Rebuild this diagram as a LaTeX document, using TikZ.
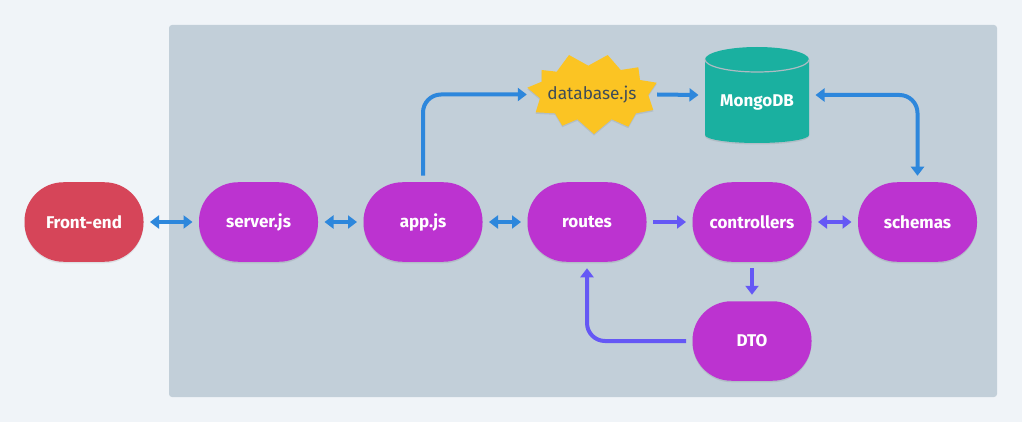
\documentclass[tikz,border=0pt]{standalone}
\usepackage{fontspec}
\setmainfont{Fira Sans}
\usepackage{xcolor}
\usepackage{tikz}
\usetikzlibrary{arrows.meta,shadows}

\definecolor{pagebg}{HTML}{F0F4F8}
\definecolor{panelbg}{HTML}{C2CFD9}
\definecolor{pillred}{HTML}{D64559}
\definecolor{pillpurple}{HTML}{BC33D0}
\definecolor{dbteal}{HTML}{1AB0A0}
\definecolor{rimgrey}{HTML}{AEBBC3}
\definecolor{burstyellow}{HTML}{FBC423}
\definecolor{inkdark}{HTML}{3E4C59}
\definecolor{linkblue}{HTML}{2D87DC}
\definecolor{linkindigo}{HTML}{6558F5}

\tikzset{
  softshadow/.style={drop shadow={shadow xshift=0pt,shadow yshift=-1.5pt,opacity=.08,fill=black}},
  pill/.style={rectangle, rounded corners=39pt, minimum width=119pt, minimum height=79.5pt, inner sep=0pt,
    outer sep=6.5pt, fill=pillpurple, text=white, font=\fontsize{17}{20}\selectfont\bfseries, softshadow},
  link/.style={line width=4pt, linkblue, rounded corners=18pt},
  linkb/.style={link, linkindigo},
  onearrow/.style={-{Triangle[length=9pt,width=13pt]}},
  twoarrow/.style={{Triangle[length=9pt,width=13pt]}-{Triangle[length=9pt,width=13pt]}}
}

\begin{document}
\begin{tikzpicture}[x=1pt,y=-1pt]
  \fill[pagebg] (0,0) rectangle (1022,422);
  \useasboundingbox (0,0) rectangle (1022,422);
  \fill[panelbg, rounded corners=3pt] (169,25) rectangle (997,397);

  \node[pill, fill=pillred] (frontend) at (84,222) {Front-end};
  \node[pill] (server) at (258.5,222) {server.js};
  \node[pill] (app) at (423,222) {app.js};
  \node[pill] (routes) at (587,222) {routes};
  \node[pill] (controllers) at (752,222) {controllers};
  \node[pill] (schemas) at (917.5,222) {schemas};
  \node[pill] (dto) at (752,341) {DTO};

  % burst outline
  \fill[burstyellow, softshadow] (527.3,87.7) -- (541.7,81.7) -- (541.7,70) -- (556.7,71.7) -- (569,55) -- (588.3,65.7)
    -- (607.7,55) -- (620.7,70) -- (638.3,67.3) -- (640,80) -- (656.7,82.7) -- (648.3,95) -- (653.3,110)
    -- (636,113.3) -- (628.3,126.7) -- (611.7,119.3) -- (594,134) -- (577.3,119.3) -- (562.3,125.7)
    -- (555,113.3) -- (535.7,112.3) -- (540,98.3) -- cycle;
  \node[minimum width=130pt, minimum height=79pt, inner sep=0pt, text=inkdark,
    font=\fontsize{17.3}{20}\selectfont] (database) at (592,94.5) {database.js};

  % cylinder body
  \fill[dbteal, softshadow] (705,59.5) arc[start angle=180, end angle=0, x radius=52, y radius=-12.5]
    -- (809,135) arc[start angle=0, end angle=180, x radius=52, y radius=8] -- cycle;
  \draw[rimgrey, line width=1.2pt] (705,59.5) arc[start angle=180, end angle=360, x radius=52, y radius=-12.5];
  \node[minimum width=104pt, minimum height=96pt, inner sep=0pt, outer sep=6.5pt, text=white,
    font=\fontsize{17}{20}\selectfont\bfseries] (mongo) at (757,95) {\raisebox{-12pt}[0pt][0pt]{MongoDB}};

  \foreach \from/\to in {frontend/server, server/app, app/routes}
    \draw[link, twoarrow] (\from) -- (\to);
  \draw[linkb, twoarrow] (controllers) -- (schemas);
  \foreach \from/\to in {routes/controllers, controllers/dto}
    \draw[linkb, onearrow] (\from) -- (\to);
  \draw[linkb, onearrow] (dto.west) -| (routes.south);
  \draw[link, onearrow] (app.north) |- (database.west);
  \draw[link, onearrow, rounded corners=0pt] (database.east) -- (mongo.west);
  \draw[link, twoarrow] (mongo.east) -| (schemas.north);
\end{tikzpicture}
\end{document}
